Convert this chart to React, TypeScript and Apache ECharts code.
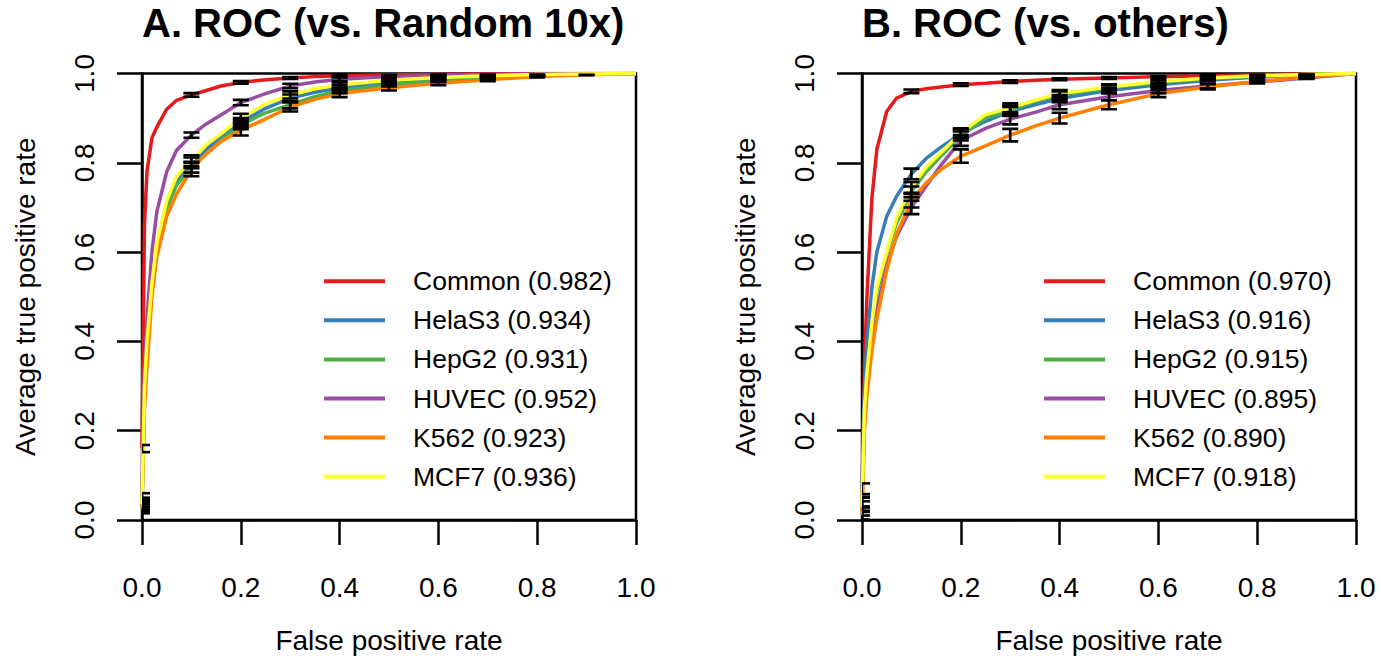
import React, { useEffect, useRef } from "react";
import * as echarts from "echarts";

const FONT = '"Liberation Sans", Arial, Helvetica, sans-serif';
const COLORS = ["#E41A1C", "#377EB8", "#4DAF4A", "#984EA3", "#FF7F00", "#FFFF33"];
const LINES = ["Common", "HelaS3", "HepG2", "HUVEC", "K562", "MCF7"];
const AUC_A = ["0.982", "0.934", "0.931", "0.952", "0.923", "0.936"];
const AUC_B = ["0.970", "0.916", "0.915", "0.895", "0.890", "0.918"];
const TITLE_A = "A. ROC (vs. Random 10x)";
const TITLE_B = "B. ROC (vs. others)";
const X_NAME = "False positive rate";
const Y_NAME = "Average true positive rate";

// False positive rate grid
const FPR = [0, 0.005, 0.01, 0.02, 0.03, 0.05, 0.07, 0.1, 0.13, 0.16, 0.2, 0.25, 0.3, 0.35, 0.4, 0.5, 0.6, 0.7, 0.8, 0.9, 1.0];

// Panel A: average TPR
const A_COMMON = [0.16, 0.66, 0.78, 0.855, 0.88, 0.92, 0.94, 0.952, 0.962, 0.972, 0.98, 0.986, 0.99, 0.993, 0.995, 0.997, 0.998, 0.999, 1, 1, 1];
const A_HELAS3 = [0.04, 0.29, 0.39, 0.52, 0.61, 0.70, 0.755, 0.80, 0.83, 0.858, 0.89, 0.922, 0.945, 0.958, 0.968, 0.98, 0.988, 0.993, 0.997, 0.999, 1];
const A_HEPG2 = [0.03, 0.28, 0.38, 0.51, 0.60, 0.70, 0.75, 0.79, 0.82, 0.85, 0.885, 0.912, 0.93, 0.948, 0.962, 0.975, 0.984, 0.99, 0.995, 0.998, 1];
const A_HUVEC = [0.05, 0.33, 0.45, 0.60, 0.69, 0.78, 0.828, 0.862, 0.887, 0.907, 0.935, 0.955, 0.972, 0.981, 0.987, 0.993, 0.996, 0.998, 0.999, 1, 1];
const A_K562 = [0.025, 0.25, 0.34, 0.50, 0.59, 0.68, 0.73, 0.785, 0.82, 0.848, 0.873, 0.898, 0.925, 0.942, 0.955, 0.968, 0.978, 0.986, 0.993, 0.997, 1];
const A_MCF7 = [0.035, 0.30, 0.40, 0.53, 0.62, 0.715, 0.77, 0.805, 0.84, 0.865, 0.90, 0.932, 0.952, 0.966, 0.974, 0.985, 0.991, 0.995, 0.998, 0.999, 1];

// Panel B: average TPR
const B_COMMON = [0.04, 0.35, 0.50, 0.72, 0.83, 0.915, 0.945, 0.96, 0.966, 0.97, 0.975, 0.978, 0.982, 0.985, 0.987, 0.99, 0.993, 0.995, 0.997, 0.999, 1];
const B_HELAS3 = [0.07, 0.30, 0.40, 0.52, 0.60, 0.68, 0.725, 0.775, 0.81, 0.835, 0.865, 0.893, 0.915, 0.93, 0.944, 0.962, 0.975, 0.985, 0.992, 0.997, 1];
const B_HEPG2 = [0.04, 0.24, 0.32, 0.43, 0.51, 0.595, 0.665, 0.735, 0.78, 0.815, 0.86, 0.90, 0.918, 0.937, 0.952, 0.968, 0.98, 0.988, 0.994, 0.998, 1];
const B_HUVEC = [0.02, 0.22, 0.30, 0.40, 0.47, 0.57, 0.635, 0.70, 0.748, 0.795, 0.85, 0.877, 0.898, 0.913, 0.93, 0.948, 0.962, 0.972, 0.981, 0.99, 1];
const B_K562 = [0.011, 0.20, 0.28, 0.38, 0.45, 0.56, 0.64, 0.715, 0.755, 0.785, 0.815, 0.838, 0.862, 0.882, 0.90, 0.93, 0.955, 0.97, 0.982, 0.992, 1];
const B_MCF7 = [0.03, 0.25, 0.33, 0.44, 0.52, 0.60, 0.676, 0.745, 0.79, 0.823, 0.867, 0.908, 0.923, 0.94, 0.955, 0.97, 0.982, 0.99, 0.995, 0.998, 1];

// Error bars (half-width of the spread) at FPR = 0, 0.1, ..., 1.0
const ERR_X = [0, 0.1, 0.2, 0.3, 0.4, 0.5, 0.6, 0.7, 0.8, 0.9, 1.0];
const A_ERR_COMMON = [0.008, 0.004, 0.003, 0.002, 0.002, 0.001, 0.001, 0, 0, 0, 0];
const A_ERR_HELAS3 = [0.01, 0.012, 0.01, 0.008, 0.006, 0.004, 0.003, 0.002, 0.001, 0, 0];
const A_ERR_HEPG2 = [0.01, 0.012, 0.01, 0.008, 0.006, 0.004, 0.003, 0.002, 0.001, 0, 0];
const A_ERR_HUVEC = [0.01, 0.006, 0.006, 0.005, 0.004, 0.003, 0.002, 0.001, 0, 0, 0];
const A_ERR_K562 = [0.01, 0.015, 0.012, 0.01, 0.008, 0.006, 0.004, 0.003, 0.002, 0.001, 0];
const A_ERR_MCF7 = [0.01, 0.012, 0.01, 0.008, 0.006, 0.004, 0.003, 0.002, 0.001, 0, 0];

const B_ERR_COMMON = [0.01, 0.004, 0.003, 0.003, 0.002, 0.002, 0.001, 0.001, 0.001, 0, 0];
const B_ERR_HELAS3 = [0.012, 0.012, 0.01, 0.01, 0.008, 0.006, 0.005, 0.003, 0.002, 0.001, 0];
const B_ERR_HEPG2 = [0.012, 0.012, 0.01, 0.01, 0.008, 0.006, 0.005, 0.003, 0.002, 0.001, 0];
const B_ERR_HUVEC = [0.01, 0.015, 0.012, 0.012, 0.01, 0.008, 0.006, 0.005, 0.003, 0.002, 0];
const B_ERR_K562 = [0.01, 0.015, 0.015, 0.014, 0.012, 0.01, 0.008, 0.006, 0.004, 0.002, 0];
const B_ERR_MCF7 = [0.012, 0.012, 0.01, 0.01, 0.008, 0.006, 0.005, 0.003, 0.002, 0.001, 0];

const A_CURVES = [A_COMMON, A_HELAS3, A_HEPG2, A_HUVEC, A_K562, A_MCF7];
const B_CURVES = [B_COMMON, B_HELAS3, B_HEPG2, B_HUVEC, B_K562, B_MCF7];
const A_ERRS = [A_ERR_COMMON, A_ERR_HELAS3, A_ERR_HEPG2, A_ERR_HUVEC, A_ERR_K562, A_ERR_MCF7];
const B_ERRS = [B_ERR_COMMON, B_ERR_HELAS3, B_ERR_HEPG2, B_ERR_HUVEC, B_ERR_K562, B_ERR_MCF7];

const PLOT_W = 494;
const PLOT_H = 446.5;
const PLOT_TOP = 73.5;
const LEFTS = [142, 862];

function errorBarRender(params: any, api: any) {
  const x = api.value(0);
  const lo = api.value(1);
  const hi = api.value(2);
  const a = api.coord([x, lo]);
  const b = api.coord([x, hi]);
  const h = 8;
  const style = { stroke: "#000", lineWidth: 2.6, fill: null };
  return {
    type: "group",
    children: [
      { type: "line", shape: { x1: a[0], y1: a[1], x2: b[0], y2: b[1] }, style },
      { type: "line", shape: { x1: a[0] - h, y1: a[1], x2: a[0] + h, y2: a[1] }, style },
      { type: "line", shape: { x1: b[0] - h, y1: b[1], x2: b[0] + h, y2: b[1] }, style },
    ],
  };
}

function panelSeries(panel: number, curves: number[][], errs: number[][], aucs: string[]) {
  const series: any[] = [];
  curves.forEach((vals, i) => {
    series.push({
      type: "line",
      name: `${LINES[i]} (${aucs[i]})`,
      xAxisIndex: panel,
      yAxisIndex: panel,
      data: FPR.map((x, k) => [x, vals[k]]),
      showSymbol: false,
      symbol: "none",
      clip: true,
      color: COLORS[i],
      lineStyle: { color: COLORS[i], width: 3.5 },
      z: 2 + i * 0.01,
    });
  });
  const bars: number[][] = [];
  curves.forEach((vals, i) => {
    ERR_X.forEach((x, j) => {
      const half = errs[i][j];
      if (half <= 0) return;
      const y = vals[FPR.indexOf(x)];
      bars.push([x, Math.max(0, y - half), Math.min(1, y + half)]);
    });
  });
  series.push({
    type: "custom",
    name: `errors-${panel}`,
    xAxisIndex: panel,
    yAxisIndex: panel,
    renderItem: errorBarRender,
    data: bars,
    encode: { x: 0, y: [1, 2] },
    clip: true,
    z: 5,
    silent: true,
  });
  return series;
}

function axisCommon() {
  return {
    type: "value",
    min: 0,
    max: 1,
    interval: 0.2,
    axisLine: { show: true, onZero: false, lineStyle: { color: "#000", width: 2.5 } },
    axisTick: { show: true, length: 25, lineStyle: { color: "#000", width: 2.5 } },
    splitLine: { show: false },
    nameLocation: "middle",
    nameTextStyle: { fontSize: 28, color: "#000", fontFamily: FONT },
  };
}

export default function App() {
  const ref = useRef<HTMLDivElement>(null);
  useEffect(() => {
    if (!ref.current) return;
    const chart = echarts.init(ref.current, undefined, { renderer: "svg" });
    const grids = LEFTS.map((l) => ({
      left: l,
      top: PLOT_TOP,
      width: PLOT_W,
      height: PLOT_H,
      show: true,
      borderColor: "#000",
      borderWidth: 2.5,
      backgroundColor: "transparent",
    }));
    const xAxes = LEFTS.map((_, g) => ({
      ...axisCommon(),
      gridIndex: g,
      name: X_NAME,
      nameGap: 106,
      axisLabel: { fontSize: 28, color: "#000", fontFamily: FONT, margin: 53, formatter: (v: number) => v.toFixed(1) },
    }));
    const yAxes = LEFTS.map((_, g) => ({
      ...axisCommon(),
      gridIndex: g,
      name: Y_NAME,
      nameGap: 103,
      axisLabel: { fontSize: 28, color: "#000", fontFamily: FONT, margin: 44, rotate: 90, formatter: (v: number) => v.toFixed(1) },
    }));
    const legendNames = [LINES.map((n, i) => `${n} (${AUC_A[i]})`), LINES.map((n, i) => `${n} (${AUC_B[i]})`)];
    const legends = LEFTS.map((l, g) => ({
      data: legendNames[g],
      orient: "vertical",
      left: l + 182,
      top: 267.7,
      padding: 0,
      itemWidth: 61,
      itemHeight: 4,
      itemGap: 12.1,
      icon: "rect",
      selectedMode: false,
      textStyle: { fontSize: 26.5, color: "#000", fontFamily: FONT, padding: [0, 0, 0, 23] },
    }));
    const titles = [TITLE_A, TITLE_B].map((t, g) => ({
      text: t,
      left: LEFTS[g],
      top: 3,
      padding: 0,
      textStyle: { fontSize: 40, fontWeight: "bold", color: "#000", fontFamily: FONT },
    }));
    chart.setOption({
      animation: false,
      backgroundColor: "#fff",
      title: titles,
      legend: legends,
      grid: grids,
      xAxis: xAxes,
      yAxis: yAxes,
      series: [...panelSeries(0, A_CURVES, A_ERRS, AUC_A), ...panelSeries(1, B_CURVES, B_ERRS, AUC_B)],
    });
    return () => chart.dispose();
  }, []);
  return <div ref={ref} style={{ position: "fixed", left: 0, top: 0, width: 1381, height: 662 }} />;
}
